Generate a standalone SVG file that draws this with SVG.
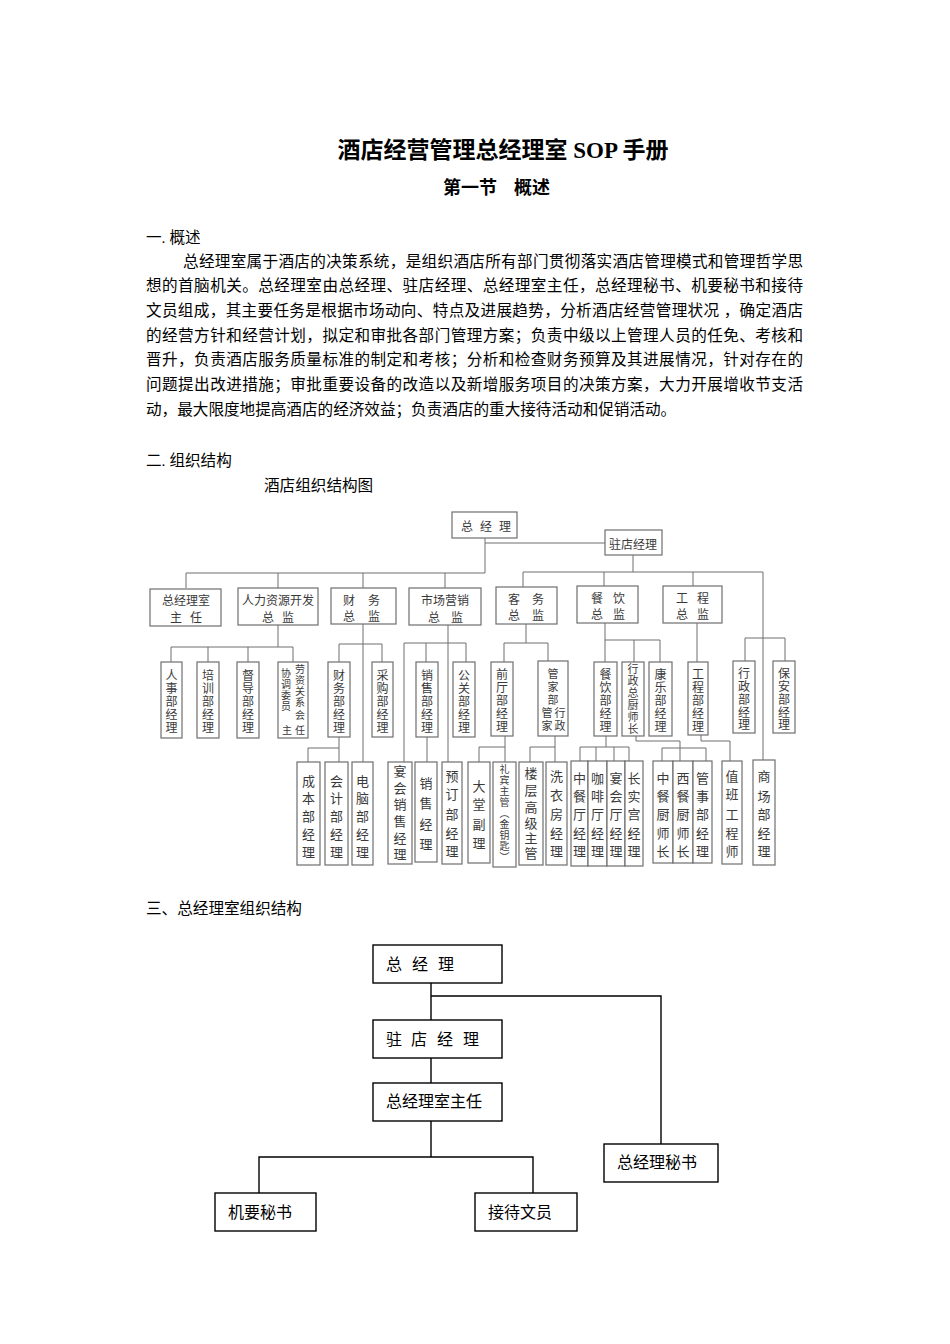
<svg xmlns="http://www.w3.org/2000/svg" width="950" height="1344" viewBox="0 0 950 1344">
<style>
.h1{font-family:"Liberation Serif","Noto Sans CJK SC",serif;font-size:23px;font-weight:bold;fill:#000}
.h2{font-family:"Liberation Serif","Noto Sans CJK SC",serif;font-size:18px;font-weight:bold;fill:#000}
.t{font-family:"Liberation Serif","Noto Sans CJK SC",serif;font-size:15.6px;fill:#000}
.ol{fill:none;stroke:#6e6e6e;stroke-width:1}
.ob{fill:#fff;stroke:#6e6e6e;stroke-width:1.2}
.ot{font-family:"Noto Sans CJK SC",sans-serif;font-size:12px;fill:#3a3a3a;text-anchor:middle;dominant-baseline:central}
.o3{font-family:"Noto Sans CJK SC",sans-serif;font-size:12px;fill:#3a3a3a;text-anchor:middle;dominant-baseline:central}
.ov{font-family:"Noto Sans CJK SC",sans-serif;font-size:13px;fill:#3a3a3a;text-anchor:middle;dominant-baseline:central}
.os{font-family:"Noto Sans CJK SC",sans-serif;font-size:11px;fill:#3a3a3a;text-anchor:middle;dominant-baseline:central}
.ox{font-family:"Noto Sans CJK SC",sans-serif;font-size:10px;fill:#3a3a3a;text-anchor:middle;dominant-baseline:central}
.bl{fill:none;stroke:#000;stroke-width:1.4}
.bb{fill:#fff;stroke:#000;stroke-width:1.4}
.bt{font-family:"Liberation Serif","Noto Sans CJK SC",serif;font-size:16px;fill:#000;dominant-baseline:central}
</style>
<rect width="950" height="1344" fill="#fff"/>

<!-- header text -->
<text class="h1" x="503" y="158" text-anchor="middle">酒店经营管理总经理室 SOP 手册</text>
<text class="h2" x="443" y="194">第一节</text>
<text class="h2" x="514" y="194">概述</text>
<text class="t" x="146" y="243">一. 概述</text>
<text class="t" x="183" y="267" textLength="620" lengthAdjust="spacing">总经理室属于酒店的决策系统，是组织酒店所有部门贯彻落实酒店管理模式和管理哲学思</text>
<text class="t" x="146" y="291" textLength="657" lengthAdjust="spacing">想的首脑机关。总经理室由总经理、驻店经理、总经理室主任，总经理秘书、机要秘书和接待</text>
<text class="t" x="146" y="316" textLength="657" lengthAdjust="spacing">文员组成，其主要任务是根据市场动向、特点及进展趋势，分析酒店经营管理状况 ，确定酒店</text>
<text class="t" x="146" y="341" textLength="657" lengthAdjust="spacing">的经营方针和经营计划，拟定和审批各部门管理方案；负责中级以上管理人员的任免、考核和</text>
<text class="t" x="146" y="365" textLength="657" lengthAdjust="spacing">晋升，负责酒店服务质量标准的制定和考核；分析和检查财务预算及其进展情况，针对存在的</text>
<text class="t" x="146" y="390" textLength="657" lengthAdjust="spacing">问题提出改进措施；审批重要设备的改造以及新增服务项目的决策方案，大力开展增收节支活</text>
<text class="t" x="146" y="415">动，最大限度地提高酒店的经济效益；负责酒店的重大接待活动和促销活动。</text>
<text class="t" x="146" y="466">二. 组织结构</text>
<text class="t" x="264" y="491">酒店组织结构图</text>

<!-- hotel org chart connectors -->
<g id="org-connectors" class="ol">
  <path d="M485,538 V573 M485,543 H605 M186,588 V573 H485 M278,573 V588 M363,573 V588 M445,573 V588"/>
  <path d="M633,555 V572 M523,587 V572 H763 V760 M604,572 V586 M693,572 V586"/>
  <path d="M278,625 V647 M171,662 V647 H293 V662 M208,647 V662 M248,647 V662"/>
  <path d="M363,624 V762 M339,662 V644 H382 V662 M339,737 V748 M308,762 V748 H339 V762"/>
  <path d="M448,625 V762 M404,762 V643 H466 V662 M426,643 V662 M427,737 V762"/>
  <path d="M526,624 V643 M504,662 V643 H548 V662 M505,736 V747 M479,762 V747 H505 V762 M555,736 V747 M530,762 V747 H555 V762"/>
  <path d="M605,623 V662 M605,640 H660 V662 M634,640 V662 M606,736 V747 M580,761 V747 H629 V761 M596,747 V761 M614,747 V761"/>
  <path d="M636,736 V741 H680 V761 M662,761 V748 H706 V761"/>
  <path d="M697,623 V662 M701,735 V741 H730 V761 M745,661 V638 H785 V661"/>
</g>

<!-- level 1 -->
<g id="n-gm"><rect class="ob" x="452" y="512" width="65" height="26"/><text class="ot" x="467 486 505" y="525">总经理</text></g>
<g id="n-rm"><rect class="ob" x="605" y="530" width="57" height="25"/><text class="ot" x="633" y="543">驻店经理</text></g>

<!-- level 2 -->
<g id="n-gmo"><rect class="ob" x="150" y="589" width="71" height="37"/><text class="ot" x="186" y="599">总经理室</text><text class="ot" x="176 196" y="616">主任</text></g>
<g id="n-hr"><rect class="ob" x="238" y="588" width="80" height="37"/><text class="ot" x="278" y="599">人力资源开发</text><text class="ot" x="268 288" y="616">总监</text></g>
<g id="n-fin"><rect class="ob" x="331" y="588" width="65" height="36"/><text class="ot" x="349 374" y="599">财务</text><text class="ot" x="349 374" y="615">总监</text></g>
<g id="n-mkt"><rect class="ob" x="409" y="588" width="72" height="37"/><text class="ot" x="445" y="599">市场营销</text><text class="ot" x="434 457" y="616">总监</text></g>
<g id="n-rmd"><rect class="ob" x="496" y="587" width="61" height="37"/><text class="ot" x="514 538" y="598">客务</text><text class="ot" x="514 538" y="614">总监</text></g>
<g id="n-fbd"><rect class="ob" x="577" y="586" width="61" height="37"/><text class="ot" x="597 619" y="597">餐饮</text><text class="ot" x="597 619" y="613">总监</text></g>
<g id="n-eng"><rect class="ob" x="663" y="586" width="59" height="37"/><text class="ot" x="682 703" y="597">工程</text><text class="ot" x="682 703" y="613">总监</text></g>

<!-- level 3 -->
<g id="n-hr1"><rect class="ob" x="161" y="662" width="21" height="76"/><text class="o3" x="171.5 171.5 171.5 171.5 171.5" y="674 687 700 713 726">人事部经理</text></g>
<g id="n-hr2"><rect class="ob" x="197" y="662" width="22" height="76"/><text class="o3" x="208 208 208 208 208" y="674 687 700 713 726">培训部经理</text></g>
<g id="n-hr3"><rect class="ob" x="237" y="662" width="22" height="76"/><text class="o3" x="248 248 248 248 248" y="674 687 700 713 726">督导部经理</text></g>
<g id="n-hr4"><rect class="ob" x="278" y="662" width="30" height="76"/><text class="ox" x="300 300 300 300 300" y="668 679 690 701 714">劳资关系会</text><text class="ox" x="286 286 286 286" y="672 683 694 705">协调委员</text><text class="ox" x="287 300" y="729">主任</text></g>
<g id="n-fin1"><rect class="ob" x="328" y="662" width="22" height="75"/><text class="o3" x="339 339 339 339 339" y="674 687 700 713 726">财务部经理</text></g>
<g id="n-fin2"><rect class="ob" x="372" y="662" width="21" height="75"/><text class="o3" x="382.5 382.5 382.5 382.5 382.5" y="674 687 700 713 726">采购部经理</text></g>
<g id="n-mk1"><rect class="ob" x="416" y="662" width="22" height="75"/><text class="o3" x="427 427 427 427 427" y="674 687 700 713 726">销售部经理</text></g>
<g id="n-mk2"><rect class="ob" x="453" y="662" width="22" height="75"/><text class="o3" x="464 464 464 464 464" y="674 687 700 713 726">公关部经理</text></g>
<g id="n-rm1"><rect class="ob" x="491" y="662" width="22" height="74"/><text class="o3" x="502 502 502 502 502" y="673 686 699 712 725">前厅部经理</text></g>
<g id="n-rm2"><rect class="ob" x="538" y="661" width="30" height="75"/><text class="os" x="553 553 553" y="673 686 699">管家部</text><text class="os" x="547 547" y="712 725">管家</text><text class="os" x="560 560" y="712 725">行政</text></g>
<g id="n-fb1"><rect class="ob" x="594" y="662" width="23" height="74"/><text class="o3" x="605.5 605.5 605.5 605.5 605.5" y="673 686 699 712 725">餐饮部经理</text></g>
<g id="n-fb2"><rect class="ob" x="622" y="662" width="22" height="74"/><text class="os" x="633 633 633 633 633 633" y="668 680 692 704 716 728">行政总厨师长</text></g>
<g id="n-fb3"><rect class="ob" x="649" y="662" width="23" height="74"/><text class="o3" x="660.5 660.5 660.5 660.5 660.5" y="673 686 699 712 725">康乐部经理</text></g>
<g id="n-en1"><rect class="ob" x="688" y="662" width="20" height="73"/><text class="o3" x="698 698 698 698 698" y="673 686 699 712 725">工程部经理</text></g>
<g id="n-ad1"><rect class="ob" x="733" y="661" width="22" height="72"/><text class="o3" x="744 744 744 744 744" y="672 685 698 711 723">行政部经理</text></g>
<g id="n-sc1"><rect class="ob" x="773" y="661" width="22" height="72"/><text class="o3" x="784 784 784 784 784" y="672 685 698 711 723">保安部经理</text></g>

<!-- level 4 -->
<g id="n-c1"><rect class="ob" x="297" y="762" width="23" height="103"/><text class="ov" x="308.5 308.5 308.5 308.5 308.5" y="780 797 815 833 851">成本部经理</text></g>
<g id="n-c2"><rect class="ob" x="325" y="762" width="23" height="103"/><text class="ov" x="336.5 336.5 336.5 336.5 336.5" y="780 797 815 833 851">会计部经理</text></g>
<g id="n-c3"><rect class="ob" x="352" y="762" width="21" height="103"/><text class="ov" x="362.5 362.5 362.5 362.5 362.5" y="780 797 815 833 851">电脑部经理</text></g>
<g id="n-m1"><rect class="ob" x="388" y="762" width="24" height="102"/><text class="ov" x="400 400 400 400 400 400" y="770 787 803 820 837 853">宴会销售经理</text></g>
<g id="n-m2"><rect class="ob" x="415" y="762" width="22" height="100"/><text class="ov" x="426 426 426 426" y="782 802 823 843">销售经理</text></g>
<g id="n-m3"><rect class="ob" x="442" y="762" width="20" height="102"/><text class="ov" x="452 452 452 452 452" y="775 793 813 832 850">预订部经理</text></g>
<g id="n-r1"><rect class="ob" x="468" y="762" width="22" height="101"/><text class="ov" x="479 479 479 479" y="785 803 823 842">大堂副理</text></g>
<g id="n-r2"><rect class="ob" x="493" y="762" width="23" height="105"/><text class="ox" x="504.5 504.5 504.5 504.5 504.5 504.5 504.5 504.5 504.5" y="768 779 790 801 812 823 834 845 856">礼宾主管︵金钥匙︶</text></g>
<g id="n-r3"><rect class="ob" x="519" y="762" width="24" height="103"/><text class="ov" x="531 531 531 531 531 531" y="772 789 806 822 837 852">楼层高级主管</text></g>
<g id="n-r4"><rect class="ob" x="546" y="762" width="21" height="103"/><text class="ov" x="556.5 556.5 556.5 556.5 556.5" y="775 794 813 832 850">洗衣房经理</text></g>
<g id="n-f1"><rect class="ob" x="571" y="761" width="17" height="105"/><text class="ov" x="579.5 579.5 579.5 579.5 579.5" y="777 795 813 832 850">中餐厅经理</text></g>
<g id="n-f2"><rect class="ob" x="588" y="761" width="19" height="105"/><text class="ov" x="597.5 597.5 597.5 597.5 597.5" y="777 795 813 832 850">咖啡厅经理</text></g>
<g id="n-f3"><rect class="ob" x="607" y="761" width="18" height="105"/><text class="ov" x="616 616 616 616 616" y="777 795 813 832 850">宴会厅经理</text></g>
<g id="n-f4"><rect class="ob" x="625" y="761" width="18" height="105"/><text class="ov" x="634 634 634 634 634" y="777 795 813 832 850">长实宫经理</text></g>
<g id="n-k1"><rect class="ob" x="653" y="761" width="20" height="102"/><text class="ov" x="663 663 663 663 663" y="777 795 813 832 850">中餐厨师长</text></g>
<g id="n-k2"><rect class="ob" x="673" y="761" width="20" height="102"/><text class="ov" x="683 683 683 683 683" y="777 795 813 832 850">西餐厨师长</text></g>
<g id="n-k3"><rect class="ob" x="693" y="761" width="19" height="102"/><text class="ov" x="702.5 702.5 702.5 702.5 702.5" y="777 795 813 832 850">管事部经理</text></g>
<g id="n-e1"><rect class="ob" x="722" y="761" width="20" height="103"/><text class="ov" x="732 732 732 732 732" y="775 793 813 832 850">值班工程师</text></g>
<g id="n-s1"><rect class="ob" x="753" y="760" width="22" height="105"/><text class="ov" x="764 764 764 764 764" y="775 795 813 832 850">商场部经理</text></g>

<text class="t" x="146" y="914">三、总经理室组织结构</text>

<!-- GM office chart -->
<g id="gmo-connectors" class="bl">
  <path d="M431,983 V1020 M431,996 H661 V1144 M431,1058 V1083 M431,1121 V1157 M259,1193 V1157 H533 V1193"/>
</g>
<g id="b-gm"><rect class="bb" x="373" y="945" width="129" height="38"/><text class="bt" x="386 412 438" y="964">总经理</text></g>
<g id="b-rm"><rect class="bb" x="373" y="1020" width="129" height="38"/><text class="bt" x="386 411 437 463" y="1039">驻店经理</text></g>
<g id="b-dir"><rect class="bb" x="373" y="1083" width="129" height="38"/><text class="bt" x="386" y="1101">总经理室主任</text></g>
<g id="b-sec"><rect class="bb" x="604" y="1144" width="114" height="38"/><text class="bt" x="617" y="1162">总经理秘书</text></g>
<g id="b-conf"><rect class="bb" x="215" y="1193" width="101" height="38"/><text class="bt" x="228" y="1212">机要秘书</text></g>
<g id="b-rec"><rect class="bb" x="475" y="1193" width="102" height="38"/><text class="bt" x="488" y="1212">接待文员</text></g>
</svg>
